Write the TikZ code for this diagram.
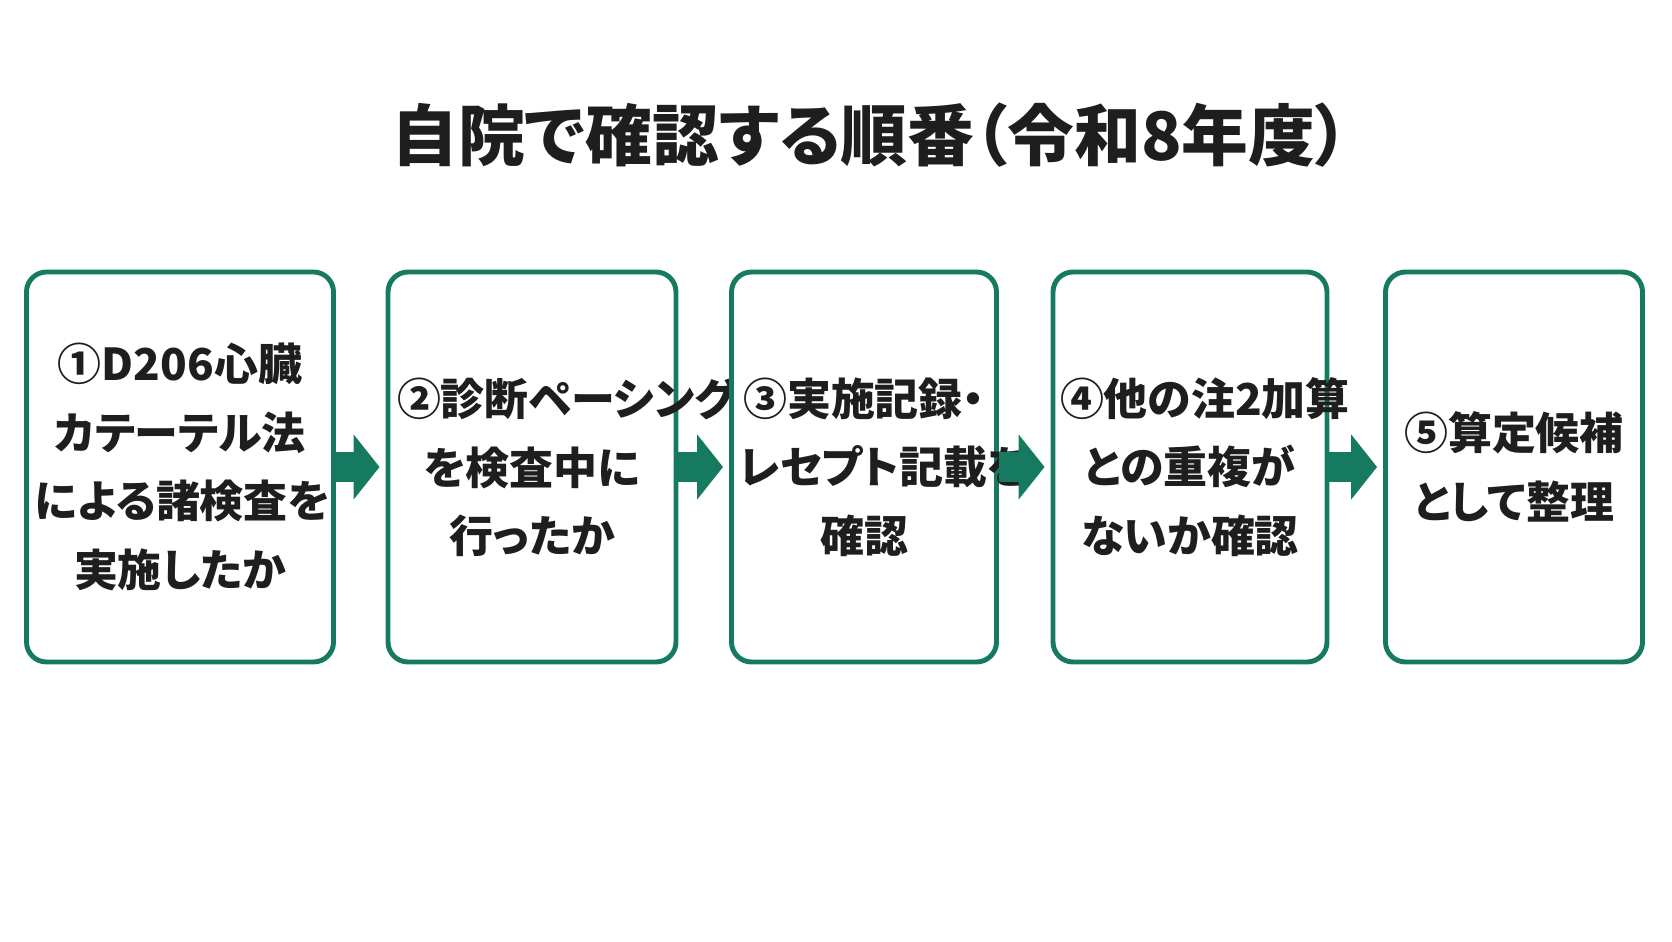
\documentclass[tikz,border=0pt]{standalone}
\usepackage{fontspec}
\newfontfamily\cjk{Noto Sans CJK JP}[RawFeature=+palt]
\usetikzlibrary{arrows.meta, positioning}
\definecolor{stepgreen}{RGB}{22,122,96}
\definecolor{textdark}{RGB}{30,30,30}
\tikzset{
  stepbox/.style={draw=stepgreen, line width=1.4pt, rounded corners=2mm, fill=white, inner sep=0pt,
    minimum height=3.90cm, align=center, font=\cjk\bfseries\fontsize{12.5}{19.5}\selectfont, text=textdark},
  flow/.style={draw=stepgreen, line width=3mm, -{Triangle[length=2.6mm,width=6.4mm]}, shorten >=0.6mm}
}
\begin{document}
\begin{tikzpicture}
\useasboundingbox (0,0) rectangle (16.72,9.41);
% Title
\node[font=\cjk\bfseries\fontsize{19}{22}\selectfont, text=textdark] (title) at (8.70,8.06) {自院で確認する順番（令和8年度）};

% Steps
\node[stepbox, minimum width=3.07cm, text width=2.9cm] (s1) at (1.80,4.74) {①D206心臓\\カテーテル法\\による諸検査を\\実施したか};
\node[stepbox, minimum width=2.88cm, text width=2.7cm] (s2) at (5.32,4.74) {②診断ペーシング\\を検査中に\\行ったか};
\node[stepbox, minimum width=2.65cm, text width=2.5cm] (s3) at (8.64,4.74) {③実施記録・\\レセプト記載を\\確認};
\node[stepbox, minimum width=2.74cm, text width=2.6cm] (s4) at (11.90,4.74) {④他の注2加算\\との重複が\\ないか確認};
\node[stepbox, minimum width=2.57cm, text width=2.4cm] (s5) at (15.14,4.74) {⑤算定候補\\として整理};

% Arrows
\foreach \a/\b in {s1/s2, s2/s3, s3/s4, s4/s5}
  \draw[flow] (\a.east) -- (\b.west);
\end{tikzpicture}
\end{document}
